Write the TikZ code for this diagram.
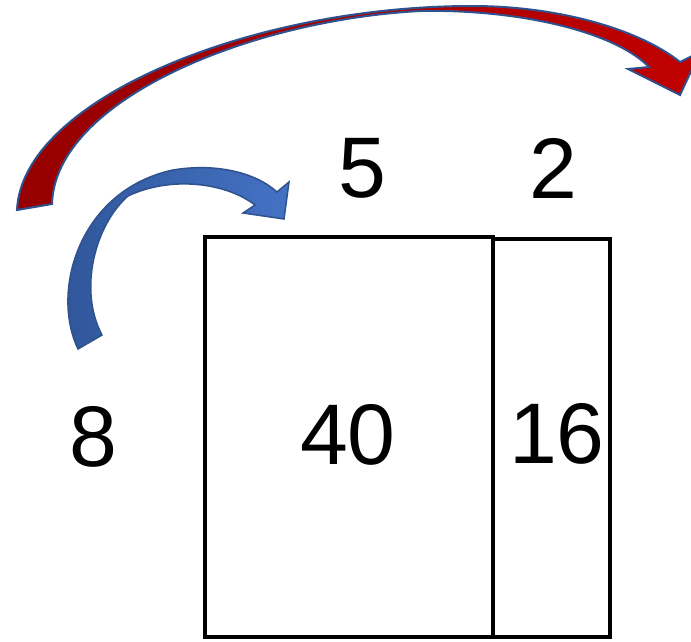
\documentclass[tikz,border=0pt]{standalone}
\usepackage{fontspec}
\setmainfont{Liberation Sans}
\definecolor{redDark}{HTML}{960000}
\definecolor{redLight}{HTML}{C00000}
\definecolor{blueDark}{HTML}{2F5597}
\definecolor{blueLight}{HTML}{4472C4}
\definecolor{rim}{HTML}{2F528F}
\tikzset{
  cell/.style={draw=black, line width=4.5pt, inner sep=0pt},
  digit/.style={inner sep=0pt, font=\fontsize{86}{86}\selectfont},
  redarrow/.style={draw=rim, line width=2pt, line join=miter, left color=redDark, right color=redLight},
  bluearrow/.style={draw=rim, line width=1.5pt, line join=miter, left color=blueDark, right color=blueLight},
}
\begin{document}
\begin{tikzpicture}[x=1pt, y=-1pt]
\useasboundingbox (0,0) rectangle (691,641);

% area model: two cells
\node[cell, minimum width=288pt, minimum height=400pt] (big) at (349,437) {};
\node[cell, minimum width=117pt, minimum height=398pt] (small) at (551.5,438) {};

% factors and partial products
\node[digit] (five) at (362,168) {5};
\node[digit] (two) at (553,168) {2};
\node[digit] (eight) at (93,437) {8};
\node[digit] (forty) at (348,435) {40};
\node[digit] (sixteen) at (557,434) {16};

% long curved arrow from 8 over to the 2 column
\path[redarrow]
  (17,210) .. controls (22,100) and (250,6) .. (472,6)
  .. controls (560,6) and (640,30) .. (680,62)
  -- (700,52) -- (680,95) -- (628,69) -- (649,67)
  .. controls (615,32) and (520,9) .. (420,11)
  .. controls (250,20) and (55,100) .. (52,204)
  -- cycle;

% short curved arrow from 8 over to the 5 column
\path[bluearrow]
  (78,349) .. controls (50,290) and (80,190) .. (173,170)
  .. controls (215,163) and (255,172) .. (277,192)
  -- (289,182) -- (284,219) -- (243,213) -- (255,205)
  .. controls (225,182) and (170,176) .. (128,196)
  .. controls (95,225) and (78,290) .. (102,335)
  -- cycle;
\end{tikzpicture}
\end{document}
